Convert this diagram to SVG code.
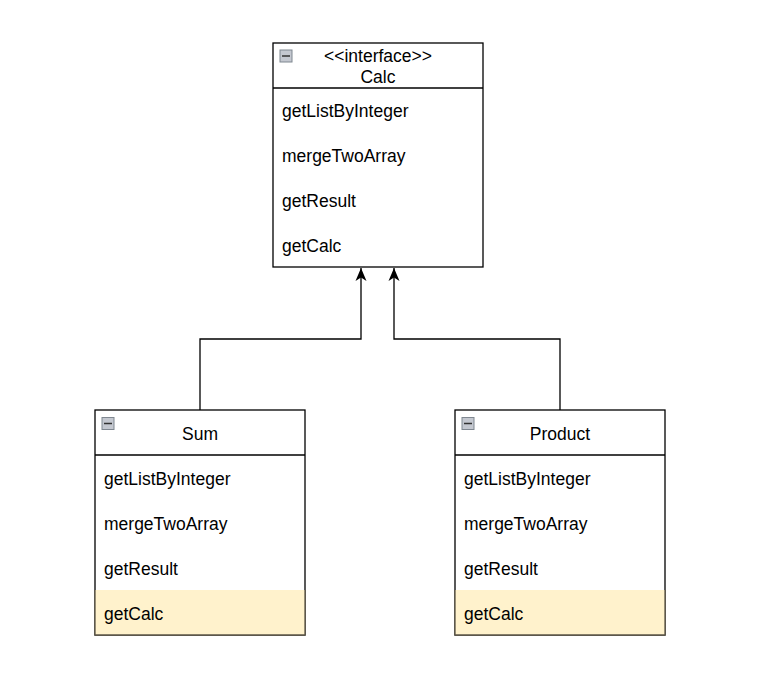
<svg xmlns="http://www.w3.org/2000/svg" width="762" height="682" viewBox="0 0 762 682">
<defs>
<style>
.box{fill:#ffffff;stroke:#000000;stroke-width:1.3}
.sep{stroke:#000000;stroke-width:1.3;fill:none}
.hl{fill:#fff2cc;stroke:none}
.hlb{fill:none;stroke:#5e5748;stroke-width:1.3}
.t{font-family:"Liberation Sans",Arial,Helvetica,sans-serif;font-size:17.5px;fill:#000000}
.c{text-anchor:middle}
.edge{fill:none;stroke:#000000;stroke-width:1.3}
.icon{fill:#c4c8d0;stroke:#7f8790;stroke-width:1}
.minus{stroke:#333333;stroke-width:1.5}
</style>
<marker id="arr" viewBox="0 0 14 12" refX="13" refY="6" markerWidth="14" markerHeight="12" markerUnits="userSpaceOnUse" orient="auto">
<path d="M13,6 L0,0.5 L3.5,6 L0,11.5 Z" fill="#000000"/>
</marker>
<g id="collapse">
<rect class="icon" x="0.5" y="0.5" width="12" height="12"/>
<line class="minus" x1="2.5" y1="6.5" x2="10.5" y2="6.5"/>
</g>
</defs>
<rect width="762" height="682" fill="#ffffff"/>

<g id="connectors">
<path class="edge" d="M200,410 L200,339 L361,339 L361,268" marker-end="url(#arr)"/>
<path class="edge" d="M560,410 L560,339 L394,339 L394,268" marker-end="url(#arr)"/>
</g>

<g id="calc">
<rect class="box" x="273" y="43" width="210" height="224"/>
<line class="sep" x1="273" y1="88" x2="483" y2="88"/>
<use href="#collapse" x="279.5" y="49.5"/>
<text class="t c" x="378" y="62">&lt;&lt;interface&gt;&gt;</text>
<text class="t c" x="378" y="83">Calc</text>
<text class="t" x="282" y="117">getListByInteger</text>
<text class="t" x="282" y="162">mergeTwoArray</text>
<text class="t" x="282" y="207">getResult</text>
<text class="t" x="282" y="252">getCalc</text>
</g>

<g id="sum">
<rect class="box" x="95" y="410" width="210" height="225"/>
<line class="sep" x1="95" y1="455" x2="305" y2="455"/>
<rect class="hl" x="95" y="590" width="210" height="45"/>
<path class="hlb" d="M95,590 L95,635 L305,635 L305,590"/>
<use href="#collapse" x="101.5" y="417"/>
<text class="t c" x="200" y="440">Sum</text>
<text class="t" x="104" y="485">getListByInteger</text>
<text class="t" x="104" y="530">mergeTwoArray</text>
<text class="t" x="104" y="575">getResult</text>
<text class="t" x="104" y="620">getCalc</text>
</g>

<g id="product">
<rect class="box" x="455" y="410" width="210" height="225"/>
<line class="sep" x1="455" y1="455" x2="665" y2="455"/>
<rect class="hl" x="455" y="590" width="210" height="45"/>
<path class="hlb" d="M455,590 L455,635 L665,635 L665,590"/>
<use href="#collapse" x="461.5" y="417"/>
<text class="t c" x="560" y="440">Product</text>
<text class="t" x="464" y="485">getListByInteger</text>
<text class="t" x="464" y="530">mergeTwoArray</text>
<text class="t" x="464" y="575">getResult</text>
<text class="t" x="464" y="620">getCalc</text>
</g>
</svg>
